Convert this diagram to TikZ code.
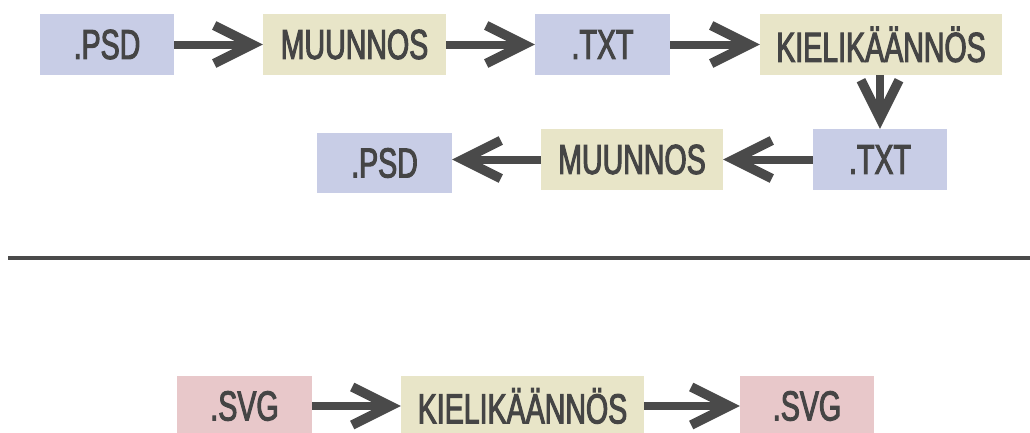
\documentclass[tikz,border=0pt]{standalone}
\usepackage{fontspec}
\newfontfamily\boxfont{Liberation Sans}[FakeStretch=0.68, FakeBold=2.4]
\usetikzlibrary{arrows.meta}

\definecolor{fileblue}{HTML}{C8CDE6}
\definecolor{stepbeige}{HTML}{E8E5C8}
\definecolor{svgpink}{HTML}{E8C8CA}
\definecolor{inkgray}{HTML}{454545}
\definecolor{arrowgray}{HTML}{4A4A4A}

\tikzset{
  x=1pt, y=-1pt,
  box/.style={rectangle, inner sep=0pt, minimum height=61pt,
    font=\boxfont\fontsize{42}{48}\selectfont, text=inkgray},
  filebox/.style={box, fill=fileblue},
  stepbox/.style={box, fill=stepbeige},
  svgbox/.style={box, fill=svgpink},
  conn/.style={draw=arrowgray, line width=8pt,
    -{Straight Barb[length=38pt, width=38pt, line width=9.5pt]}},
}

\begin{document}
\begin{tikzpicture}
  \useasboundingbox (0,0) rectangle (1030,432);

  % first chain
  \node[filebox, minimum width=134pt] (psdA) at (107,44.5) {.PSD};
  \node[stepbox, minimum width=183pt] (convA) at (354.5,44.5) {MUUNNOS};
  \node[filebox, minimum width=135pt] (txtA) at (602.5,44.5) {.TXT};
  \node[stepbox, minimum width=242pt] (trA) at (881,44.5) {KIELIKÄÄNNÖS};

  \node[filebox, minimum width=134pt] (txtB) at (880,159.5) {.TXT};
  \node[stepbox, minimum width=182pt] (convB) at (632,159.5) {MUUNNOS};
  \node[filebox, minimum width=135pt, minimum height=60pt] (psdB) at (384.5,163) {.PSD};

  \draw[conn] (psdA) -- (convA);
  \draw[conn] (convA) -- (txtA);
  \draw[conn] (txtA) -- (trA);
  \draw[conn] (trA.south -| txtB.north) -- (txtB.north);
  \draw[conn] (txtB) -- (convB);
  \draw[conn] (convB.west) -- (convB.west -| psdB.east);

  % separator
  \coordinate (sepL) at (8,258);
  \coordinate (sepR) at (1030,258);
  \draw[line width=4pt, draw=arrowgray] (sepL) -- (sepR);

  % second chain
  \node[svgbox, minimum width=135pt, minimum height=60pt] (svgA) at (244.5,406) {.SVG};
  \node[stepbox, minimum width=243pt, minimum height=60pt] (trB) at (522.5,406) {KIELIKÄÄNNÖS};
  \node[svgbox, minimum width=134pt, minimum height=60pt] (svgB) at (807,406) {.SVG};

  \draw[conn] (svgA) -- (trB);
  \draw[conn] (trB) -- (svgB);
\end{tikzpicture}
\end{document}
